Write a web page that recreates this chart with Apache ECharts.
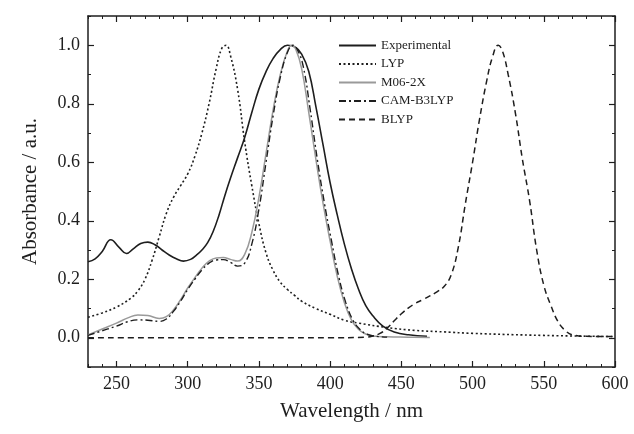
<!DOCTYPE html>
<html>
<head>
<meta charset="utf-8">
<script src="https://cdn.jsdelivr.net/npm/echarts@6/dist/echarts.min.js"></script>
<style>
  html, body { margin: 0; padding: 0; background: #fff; }
  #chart { width: 634px; height: 434px; }
</style>
</head>
<body>
<div id="chart"></div>
<script>
// absorbance spectra, [wavelength nm, normalised absorbance]
const experimental = [
  [230, 0.26], [235, 0.27], [240, 0.295], [246, 0.335], [252, 0.308], [257, 0.288],
  [262, 0.305], [267, 0.322], [272, 0.327], [277, 0.318], [282, 0.3], [287, 0.283], [292, 0.27],
  [297, 0.262], [302, 0.268], [306, 0.282], [310, 0.3], [314, 0.325], [318, 0.365], [322, 0.42],
  [326, 0.485], [330, 0.545], [335, 0.615], [340, 0.685], [345, 0.77], [350, 0.85], [355, 0.91],
  [360, 0.955], [365, 0.985], [370, 1.0], [375, 0.995], [380, 0.97], [385, 0.91], [390, 0.79],
  [395, 0.66], [400, 0.53], [405, 0.42], [410, 0.32], [415, 0.235], [420, 0.165], [425, 0.11],
  [430, 0.075], [437, 0.04], [445, 0.02], [455, 0.01], [468, 0.005]
];
const lyp = [
  [230, 0.07], [240, 0.085], [250, 0.105], [260, 0.135], [265, 0.16], [270, 0.2], [275, 0.265],
  [280, 0.345], [285, 0.425], [290, 0.48], [295, 0.52], [300, 0.56], [305, 0.62], [310, 0.7],
  [315, 0.8], [320, 0.92], [324, 0.99], [327, 1.0], [330, 0.965], [335, 0.85], [340, 0.67],
  [345, 0.52], [350, 0.39], [355, 0.29], [360, 0.23], [365, 0.19], [370, 0.165], [375, 0.145],
  [380, 0.125], [390, 0.1], [400, 0.08], [410, 0.06], [420, 0.05], [440, 0.035], [460, 0.025],
  [480, 0.02], [500, 0.015], [550, 0.008], [600, 0.004]
];
const m062x = [
  [230, 0.01], [240, 0.03], [250, 0.05], [258, 0.068], [265, 0.078], [272, 0.076], [280, 0.066],
  [285, 0.072], [290, 0.095], [295, 0.13], [300, 0.17], [305, 0.205], [310, 0.238], [315, 0.262],
  [320, 0.273], [325, 0.274], [330, 0.268], [335, 0.262], [340, 0.285], [345, 0.36], [350, 0.48],
  [355, 0.63], [360, 0.78], [365, 0.9], [370, 0.98], [373, 1.0], [376, 0.985], [380, 0.92],
  [385, 0.77], [390, 0.61], [395, 0.46], [400, 0.33], [405, 0.21], [410, 0.12], [415, 0.06],
  [420, 0.028], [425, 0.013], [430, 0.006], [440, 0.003], [455, 0.002], [470, 0.001]
];
const camB3lyp = [
  [230, 0.008], [240, 0.024], [250, 0.04], [258, 0.055], [265, 0.061], [272, 0.06], [280, 0.056],
  [285, 0.064], [290, 0.09], [295, 0.125], [300, 0.165], [305, 0.2], [310, 0.232], [315, 0.255],
  [320, 0.266], [325, 0.267], [330, 0.258], [335, 0.245], [340, 0.255], [345, 0.32], [350, 0.44],
  [355, 0.6], [360, 0.76], [365, 0.89], [370, 0.975], [374, 1.0], [377, 0.985], [381, 0.93],
  [386, 0.78], [391, 0.61], [396, 0.46], [401, 0.33], [406, 0.21], [411, 0.12], [416, 0.06],
  [421, 0.028], [426, 0.012], [432, 0.005], [440, 0.002]
];
const blyp = [
  [230, 0.0], [300, 0.0], [400, 0.0], [425, 0.002], [430, 0.006], [435, 0.015], [440, 0.033],
  [445, 0.058], [450, 0.082], [455, 0.102], [460, 0.118], [465, 0.13], [470, 0.143], [475, 0.157],
  [480, 0.175], [485, 0.215], [490, 0.31], [495, 0.46], [500, 0.6], [505, 0.75], [510, 0.88],
  [514, 0.96], [518, 1.0], [521, 0.98], [525, 0.9], [530, 0.77], [535, 0.61], [540, 0.47],
  [545, 0.3], [550, 0.18], [555, 0.11], [560, 0.055], [565, 0.025], [570, 0.01], [580, 0.005],
  [600, 0.004]
];

const xTicks = [250, 300, 350, 400, 450, 500, 550, 600];
const yTicks = [0, 0.2, 0.4, 0.6, 0.8, 1.0];

const ink = '#1e1e1e';
const serif = '"Liberation Serif", "DejaVu Serif", serif';

const chart = echarts.init(document.getElementById('chart'));

// minor ticks every 10 nm / 0.1, major ticks on separate overlaid axes
function xAx(position, major, extra) {
  return Object.assign({
    type: 'value', position: position, min: 230, max: 600, interval: 10,
    axisLine: { show: !major, onZero: false, lineStyle: { color: ink, width: 1.5 } },
    axisTick: major
      ? { inside: true, length: 6, customValues: xTicks, lineStyle: { color: ink, width: 1.2 } }
      : { inside: true, length: 3, lineStyle: { color: ink, width: 1 } },
    axisLabel: { show: false },
    splitLine: { show: false }
  }, extra || {});
}
function yAx(position, major, extra) {
  return Object.assign({
    type: 'value', position: position, min: -0.1, max: 1.1, interval: 0.1,
    axisLine: { show: !major, onZero: false, lineStyle: { color: ink, width: 1.5 } },
    axisTick: major
      ? { inside: true, length: 6, customValues: yTicks, lineStyle: { color: ink, width: 1.2 } }
      : { inside: true, length: 3, lineStyle: { color: ink, width: 1 } },
    axisLabel: { show: false },
    splitLine: { show: false }
  }, extra || {});
}

const option = {
  backgroundColor: '#fff',
  animation: false,
  textStyle: { fontFamily: serif },
  grid: { left: 88, right: 19, top: 16, bottom: 67 },
  legend: {
    orient: 'vertical',
    left: 333,
    top: 34,
    itemWidth: 37,
    itemHeight: 12,
    itemGap: 5.5,
    itemStyle: { opacity: 0 },
    textStyle: { fontFamily: serif, fontSize: 13, color: ink, lineHeight: 12 },
    data: ['Experimental', 'LYP', 'M06-2X', 'CAM-B3LYP', 'BLYP']
  },
  xAxis: [
    xAx('bottom', false, {
      axisLabel: { show: true, customValues: xTicks, fontFamily: serif, fontSize: 18, color: ink, margin: 8 },
      name: 'Wavelength / nm', nameLocation: 'middle', nameGap: 34,
      nameTextStyle: { fontFamily: serif, fontSize: 21, color: ink }
    }),
    xAx('bottom', true),
    xAx('top', false),
    xAx('top', true)
  ],
  yAxis: [
    yAx('left', false, {
      axisLabel: {
        show: true, customValues: yTicks, fontFamily: serif, fontSize: 18, color: ink, margin: 8,
        formatter: v => v.toFixed(1)
      },
      name: 'Absorbance / a.u.', nameLocation: 'middle', nameGap: 47,
      nameTextStyle: { fontFamily: serif, fontSize: 21, color: ink }
    }),
    yAx('left', true),
    yAx('right', false),
    yAx('right', true)
  ],
  series: [
    { name: 'Experimental', data: experimental, lineStyle: { color: ink, width: 1.6 } },
    { name: 'LYP', data: lyp, lineStyle: { color: ink, width: 1.6, type: [2, 2.5] } },
    { name: 'M06-2X', data: m062x, lineStyle: { color: '#9a9a9a', width: 1.5 } },
    { name: 'CAM-B3LYP', data: camB3lyp, lineStyle: { color: ink, width: 1.4, type: [7, 3, 2, 3] } },
    { name: 'BLYP', data: blyp, lineStyle: { color: ink, width: 1.5, type: [6, 4] } }
  ].map(s => Object.assign({
    type: 'line', symbol: 'none', smooth: 0.45,
    itemStyle: { color: s.lineStyle.color }, z: 3
  }, s))
};

chart.setOption(option);
</script>
</body>
</html>
